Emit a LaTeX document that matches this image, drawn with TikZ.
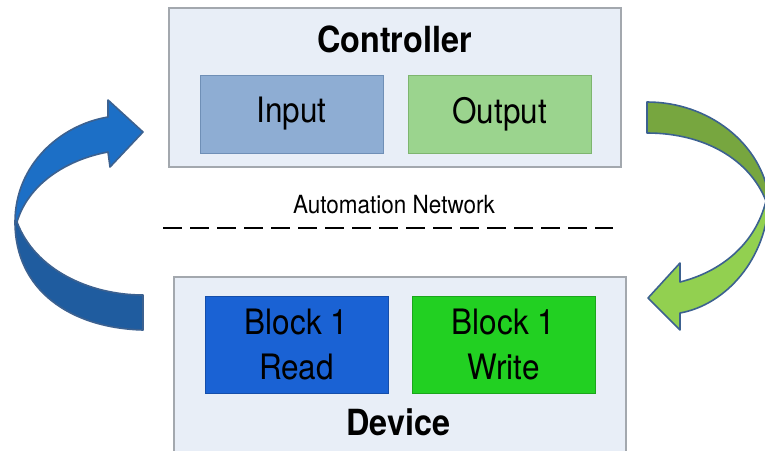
\documentclass[tikz,border=0pt]{standalone}
\usepackage{fontspec}
\setmainfont{TeX Gyre Heros}[FakeStretch=0.9]
\usetikzlibrary{positioning}

\definecolor{framefill}{HTML}{E8EEF7}
\definecolor{frameline}{HTML}{A3A8AE}
\definecolor{inputfill}{HTML}{8EADD3}
\definecolor{inputline}{HTML}{6F8FB6}
\definecolor{outputfill}{HTML}{9BD48E}
\definecolor{outputline}{HTML}{7EB56F}
\definecolor{readfill}{HTML}{1A62D4}
\definecolor{writefill}{HTML}{22D022}
\definecolor{blueup}{HTML}{1C6FC6}
\definecolor{bluedown}{HTML}{1F5C9F}
\definecolor{greenup}{HTML}{77A63F}
\definecolor{greendown}{HTML}{92D050}
\definecolor{arrowline}{HTML}{3C6190}

\begin{document}
\begin{tikzpicture}[x=1pt,y=-1pt,
	frame/.style={draw=frameline,fill=framefill,line width=1.2pt,minimum width=452pt,inner sep=0pt},
	cell/.style={line width=1pt,minimum width=183pt,inner sep=0pt},
	title/.style={anchor=base,font=\fontsize{36}{40}\selectfont\bfseries},
	bigarrow/.style={draw=arrowline,line width=1.6pt,line join=round}
] % picture in pixel units
\clip (0,0) rectangle (765,450);
\useasboundingbox (0,0) rectangle (765,450);

% controller side
\node[frame,minimum height=159pt] (controller) at (395,87.5) {};
\node[title] (controllertext) at (394.5,52) {Controller};
\node[cell,draw=inputline,fill=inputfill,minimum height=78pt,font=\fontsize{35}{40}\selectfont] (input) at (291.5,114) {Input};
\node[cell,draw=outputline,fill=outputfill,minimum height=78pt,font=\fontsize{35}{40}\selectfont,right=24pt of input] (output) {Output};

% network
\node[anchor=base,font=\fontsize{25}{30}\selectfont] (network) at (394,213) {Automation Network};
\coordinate (netleft) at (163,228);
\coordinate (netright) at (613,228);
\draw[line width=2.6pt,dash pattern=on 19pt off 8pt] (netleft) -- (netright);

% device side
\node[frame,minimum height=183pt] (device) at (400,368.5) {};
\node[cell,fill=readfill,draw=readfill!80!black,minimum height=97pt,align=center,font=\fontsize{35}{45}\selectfont] (read) at (296.5,344.5) {Block 1\\Read};
\node[cell,fill=writefill,draw=writefill!80!black,minimum height=97pt,align=center,font=\fontsize{35}{45}\selectfont,right=23pt of read] (write) {Block 1\\Write};
\node[title] (devicetext) at (398.5,435) {Device};

% left arrow, device up to controller
\path[bigarrow,fill=bluedown] (15,222) .. controls (15,290) and (70,328) .. (143,330) -- (143,295)
	.. controls (90,295) and (35,270) .. (17,222) -- cycle;
\path[bigarrow,fill=blueup] (15,222) .. controls (15,165) and (60,125) .. (108,117) -- (108,100) -- (143,132)
	-- (110,167) -- (108,152) .. controls (65,160) and (28,185) .. (17,222) -- cycle;

% right arrow, controller down to device
\path[bigarrow,fill=greenup] (647,102) .. controls (710,102) and (762,145) .. (769,198) -- (766,201)
	.. controls (750,160) and (705,133) .. (647,133) -- cycle;
\path[bigarrow,fill=greendown] (769,198) .. controls (767,260) and (725,305) .. (680,313) -- (680,330) -- (648,298)
	-- (680,263) -- (680,282) .. controls (720,272) and (755,245) .. (766,201) -- cycle;
\end{tikzpicture}
\end{document}
